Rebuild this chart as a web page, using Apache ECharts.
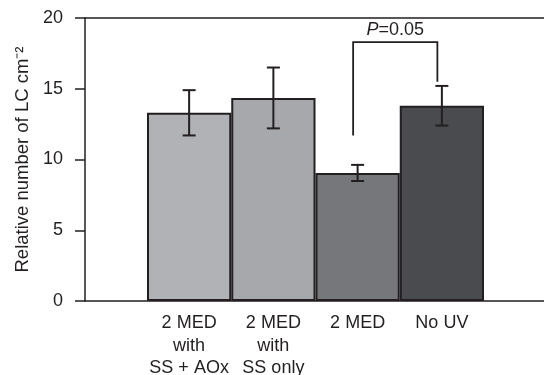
<!DOCTYPE html>
<html><head><meta charset="utf-8">
<script src="https://cdn.jsdelivr.net/npm/echarts@6/dist/echarts.min.js"></script>
<style>html,body{margin:0;padding:0;background:#fff}#c{width:544px;height:375px}</style>
</head><body><div id="c"></div>
<script>
const categories = ['2 MED\nwith\nSS + AOx', '2 MED\nwith\nSS only', '2 MED', 'No UV'];
const values = [13.3, 14.35, 9.05, 13.8];
const errors = [1.6, 2.15, 0.57, 1.4];
const barColors = ['#b1b2b6', '#a7a8ac', '#76777b', '#4a4b4e'];
const yMin = 0, yMax = 20, yStep = 5;
const bracketCats = [2, 3];
const bracketY = [11.7, 18.3, 15.5]; // left end, top, right end
const pLabel = ['P', '=0.05'];
const yTitle = 'Relative number of LC cm\u207B\u00B2';

const INK = '#231f20';
const FONT = "'Liberation Sans', Arial, Helvetica, sans-serif";
const chart = echarts.init(document.getElementById('c'), null, {renderer: 'canvas'});

const frameLine = {show: true, lineStyle: {color: INK, width: 1.5}};
chart.setOption({
  animation: false,
  grid: [
    {left: 85, right: 0, top: 18, bottom: 74, outerBoundsMode: 'none', containLabel: false},
    {left: 147, right: 60, top: 18, bottom: 74, outerBoundsMode: 'none', containLabel: false}
  ],
  xAxis: [
    {gridIndex: 0, type: 'value', min: 0, max: 1, axisLine: frameLine, axisTick: {show: false}, axisLabel: {show: false}, splitLine: {show: false}},
    {gridIndex: 0, type: 'value', position: 'top', min: 0, max: 1, axisLine: frameLine, axisTick: {show: false}, axisLabel: {show: false}, splitLine: {show: false}},
    {gridIndex: 1, type: 'category', data: categories, axisLine: {show: false}, axisTick: {show: false},
     axisLabel: {color: INK, fontFamily: FONT, fontSize: 18, lineHeight: 22.5, margin: 11, interval: 0}}
  ],
  yAxis: [
    {gridIndex: 0, type: 'value', min: yMin, max: yMax, interval: yStep,
     axisLine: frameLine, axisTick: {show: true, length: 10, lineStyle: {color: INK, width: 1.5}},
     axisLabel: {color: INK, fontFamily: FONT, fontSize: 18, margin: 22},
     splitLine: {show: false},
     name: yTitle, nameLocation: 'middle', nameGap: 52,
     nameTextStyle: {color: INK, fontFamily: FONT, fontSize: 18.5}},
    {gridIndex: 1, type: 'value', min: yMin, max: yMax, show: false}
  ],
  series: [
    {type: 'bar', xAxisIndex: 2, yAxisIndex: 1, barWidth: '100%', barCategoryGap: 0,
     data: values.map((v, i) => ({value: v, itemStyle: {color: barColors[i]}})),
     itemStyle: {borderColor: INK, borderWidth: 2}, z: 2},
    {type: 'custom', xAxisIndex: 2, yAxisIndex: 1, z: 5,
     data: values.map((v, i) => [i, v, errors[i]]),
     renderItem: function (params, api) {
       const x = api.value(0), v = api.value(1), e = api.value(2);
       const t = api.coord([x, v + e]), b = api.coord([x, v - e]);
       const hw = 6.5, st = {stroke: INK, lineWidth: 2};
       return {type: 'group', children: [
         {type: 'line', shape: {x1: t[0], y1: t[1], x2: b[0], y2: b[1]}, style: st},
         {type: 'line', shape: {x1: t[0] - hw, y1: t[1], x2: t[0] + hw, y2: t[1]}, style: st},
         {type: 'line', shape: {x1: b[0] - hw, y1: b[1], x2: b[0] + hw, y2: b[1]}, style: st}
       ]};
     }},
    {type: 'custom', xAxisIndex: 2, yAxisIndex: 1, z: 5,
     data: [[bracketCats[0], bracketCats[1], bracketY[0], bracketY[1], bracketY[2]]],
     renderItem: function (params, api) {
       const dx = -4.5;
       const a = api.coord([api.value(0), api.value(2)]);
       const at = api.coord([api.value(0), api.value(3)]);
       const bt = api.coord([api.value(1), api.value(3)]);
       const b = api.coord([api.value(1), api.value(4)]);
       return {type: 'group', children: [
         {type: 'polyline', shape: {points: [[a[0] + dx, a[1]], [at[0] + dx, at[1]], [bt[0] + dx, bt[1]], [b[0] + dx, b[1]]]},
          style: {stroke: INK, lineWidth: 1.8, fill: null}},
         {type: 'text', x: (at[0] + bt[0]) / 2 + dx, y: at[1] - 12,
          style: {text: '{i|' + pLabel[0] + '}{n|' + pLabel[1] + '}', align: 'center', verticalAlign: 'middle',
            rich: {i: {fontStyle: 'italic', fontFamily: FONT, fontSize: 18, fill: INK, color: INK},
                   n: {fontFamily: FONT, fontSize: 18, fill: INK, color: INK}}}}
       ]};
     }}
  ]
});
</script></body></html>
